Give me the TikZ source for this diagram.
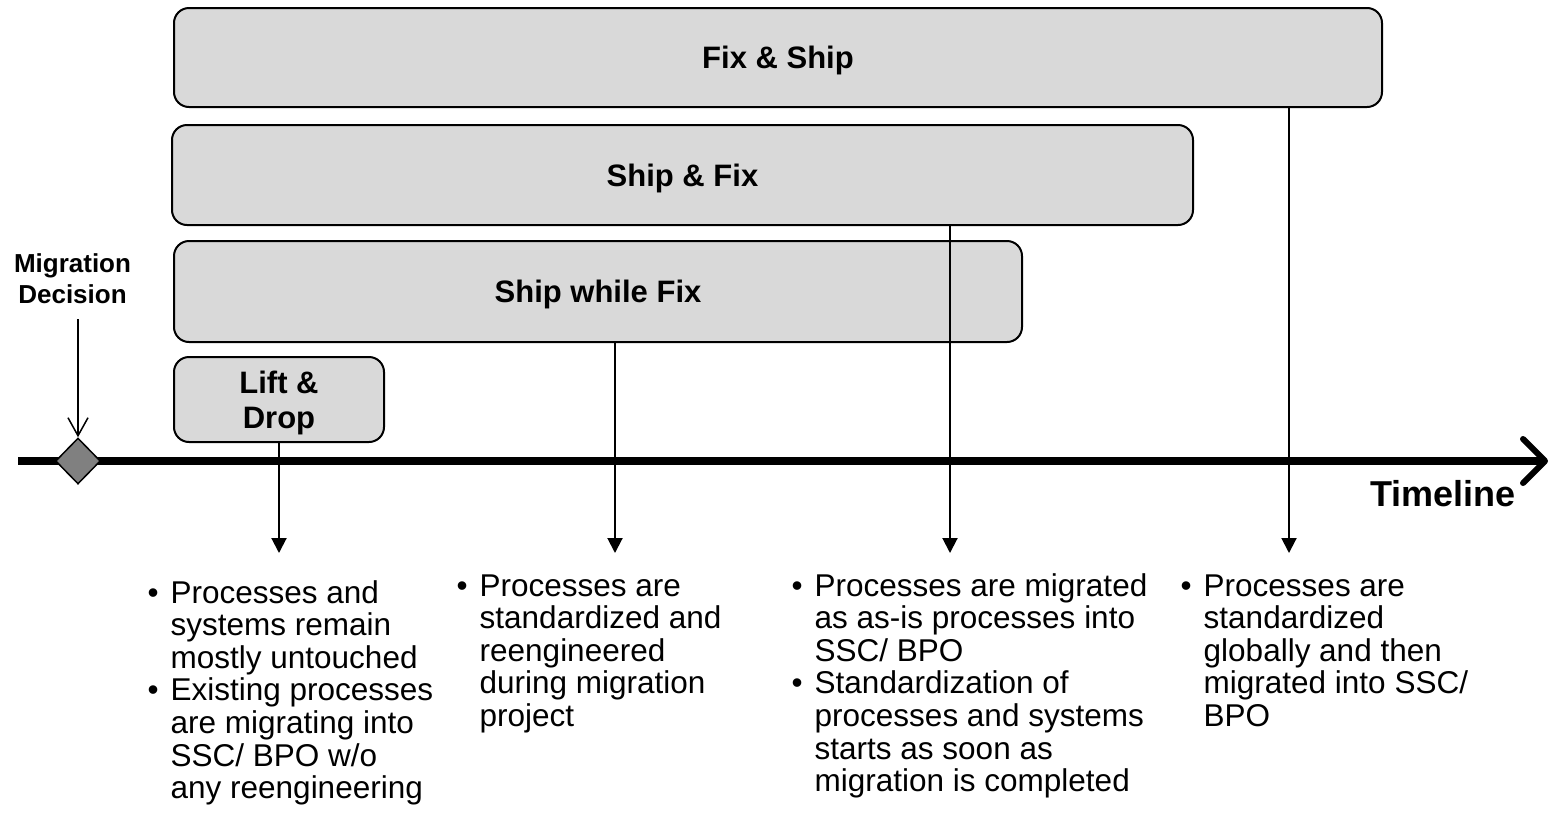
\documentclass[tikz,border=0pt]{standalone}
\usepackage{fontspec}
\setmainfont{Liberation Sans}
\usetikzlibrary{arrows.meta,shapes.geometric}

\definecolor{boxgray}{HTML}{D9D9D9}
\definecolor{markgray}{HTML}{808080}

\newcommand{\bul}{\makebox[23pt][l]{\textbullet}}

\tikzset{
  phase/.style={draw=black, line width=2pt, fill=boxgray, rounded corners=15pt,
    inner sep=0pt, align=center, text depth=0pt,
    font=\fontsize{31}{35}\selectfont\bfseries},
  conn/.style={draw=black, line width=2pt, -{Triangle[width=15pt,length=15pt]}},
  timeline/.style={draw=black, line width=8pt,
    -{Straight Barb[width=44pt,length=22pt,line width=6pt,round]}},
  decision/.style={draw=black, line width=1.5pt, -{Straight Barb[width=20pt,length=18pt]}},
  milestone/.style={diamond, draw=black, line width=1.5pt, fill=markgray,
    minimum width=45pt, minimum height=46pt, inner sep=0pt},
  bullets/.style={anchor=base west, inner sep=0pt, font=\fontsize{31.5}{32.6}\selectfont},
}

\begin{document}
\begin{tikzpicture}[x=1pt, y=-1pt]
  \useasboundingbox (0,0) rectangle (1552,839);

  % phase boxes
  \node[phase, minimum width=1208pt, minimum height=99pt]  (fix)   at (778,57.5)  {Fix \& Ship};
  \node[phase, minimum width=1021pt, minimum height=100pt] (ship)  at (682.5,175) {Ship \& Fix};
  \node[phase, minimum width=848pt,  minimum height=101pt] (while) at (598,291.5) {Ship while Fix};
  \node[phase, minimum width=210pt,  minimum height=85pt]  (lift)  at (279,399.5) {Lift \&\\ Drop};

  % timeline with the decision milestone
  \coordinate (tl0) at (18,461);
  \coordinate (tl1) at (1548,461);
  \draw[timeline] (tl0) -- (tl1);
  \node[anchor=base east, inner sep=0pt, font=\fontsize{36}{40}\selectfont\bfseries]
    (tllabel) at (1516,506) {Timeline};

  \node[milestone] (mile) at (78,461) {};
  \node[align=center, inner sep=0pt, font=\fontsize{26}{31}\selectfont\bfseries]
    (declabel) at (72.5,279) {Migration\\Decision};
  \coordinate (decstart) at (78,319);
  \draw[decision] (decstart) -- (mile.north);

  % connectors from the phases down to their descriptions
  \coordinate (e1) at (279,553);
  \coordinate (e2) at (615,553);
  \coordinate (e3) at (950,553);
  \coordinate (e4) at (1289,553);
  \draw[conn] (e1 |- lift.south)  -- (e1);
  \draw[conn] (e2 |- while.south) -- (e2);
  \draw[conn] (e3 |- ship.south)  -- (e3);
  \draw[conn] (e4 |- fix.south)   -- (e4);

  % descriptions
  \node[bullets] (d1) at (147.5,603) {\begin{tabular}[t]{@{}l@{}l@{}}
    \bul & Processes and\\
         & systems remain\\
         & mostly untouched\\
    \bul & Existing processes\\
         & are migrating into\\
         & SSC/ BPO w/o\\
         & any reengineering
  \end{tabular}};

  \node[bullets] (d2) at (456.5,596) {\begin{tabular}[t]{@{}l@{}l@{}}
    \bul & Processes are\\
         & standardized and\\
         & reengineered\\
         & during migration\\
         & project
  \end{tabular}};

  \node[bullets] (d3) at (791.5,596) {\begin{tabular}[t]{@{}l@{}l@{}}
    \bul & Processes are migrated\\
         & as as-is processes into\\
         & SSC/ BPO\\
    \bul & Standardization of\\
         & processes and systems\\
         & starts as soon as\\
         & migration is completed
  \end{tabular}};

  \node[bullets] (d4) at (1180.5,596) {\begin{tabular}[t]{@{}l@{}l@{}}
    \bul & Processes are\\
         & standardized\\
         & globally and then\\
         & migrated into SSC/\\
         & BPO
  \end{tabular}};
\end{tikzpicture}
\end{document}
